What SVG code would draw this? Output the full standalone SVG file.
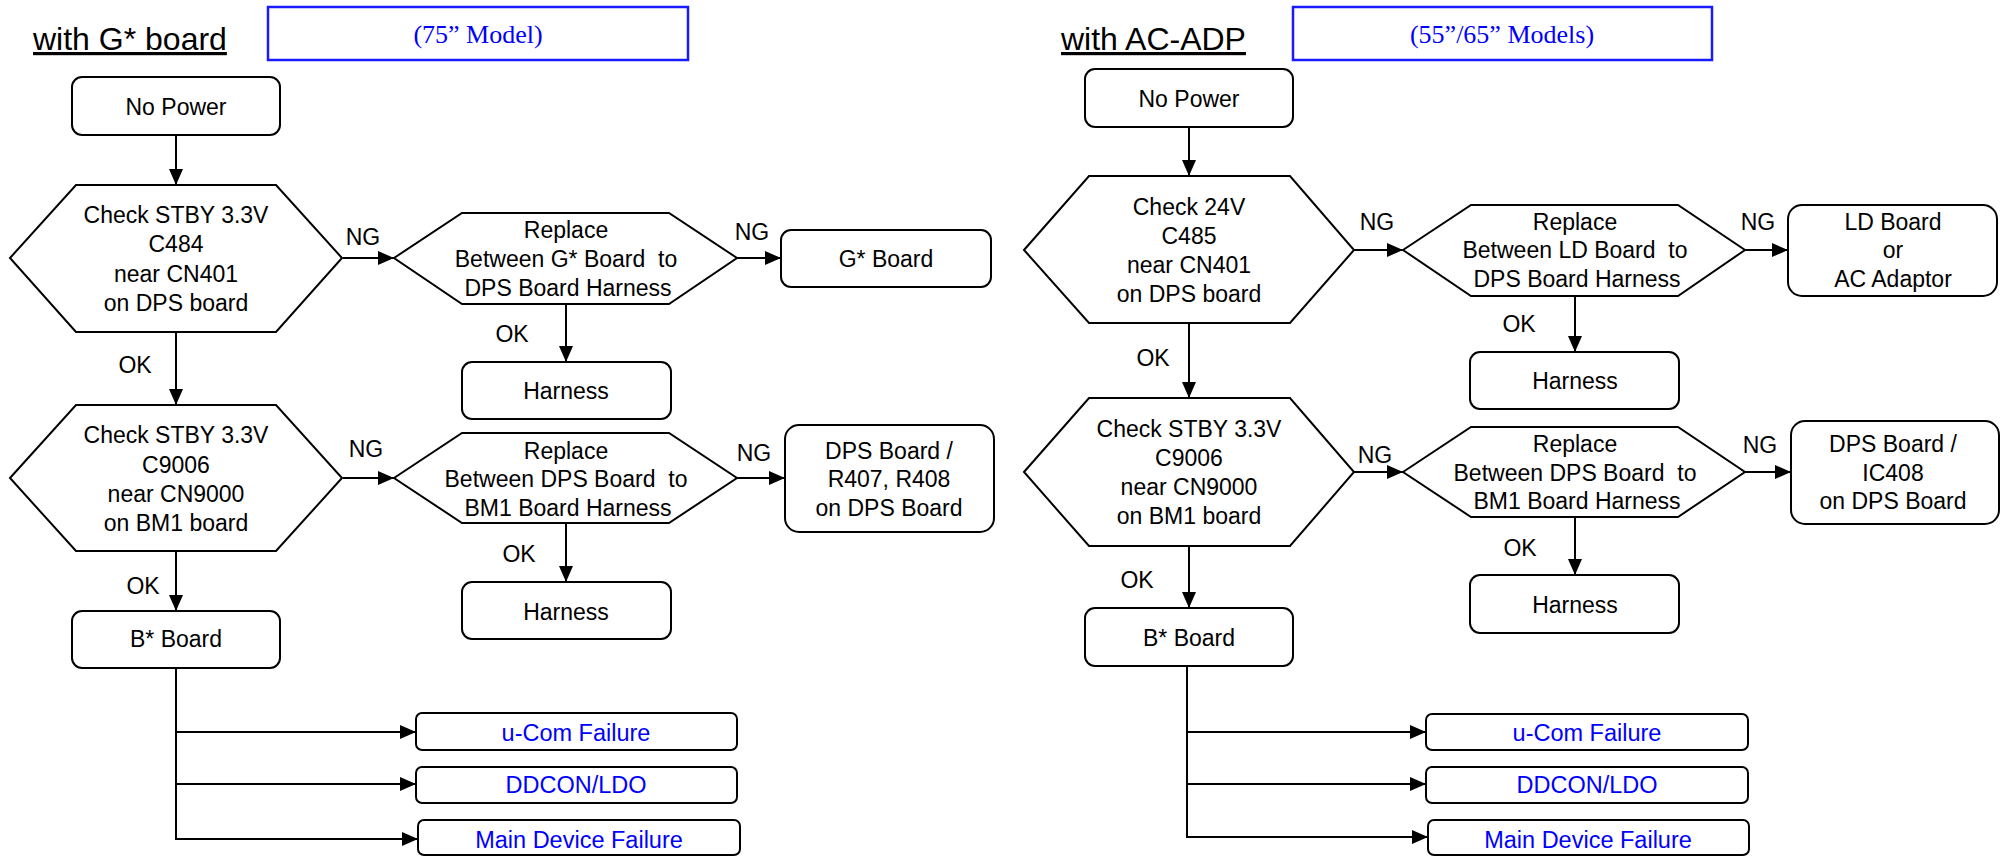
<svg xmlns="http://www.w3.org/2000/svg" width="2006" height="856" viewBox="0 0 2006 856">
<defs>
<style>
.bg{fill:#ffffff}
.box{fill:#ffffff;stroke:#000;stroke-width:2}
.hex{fill:#ffffff;stroke:#000;stroke-width:2}
.mbox{fill:none;stroke:#1a1aff;stroke-width:2.5}
.t{font-family:"Liberation Sans",Arial,sans-serif;font-size:23px;fill:#000;text-anchor:middle}
.tb{font-family:"Liberation Sans",Arial,sans-serif;font-size:23.5px;fill:#0000ff;text-anchor:middle}
.title{font-family:"Liberation Sans",Arial,sans-serif;font-size:32px;fill:#000;text-decoration:underline}
.model{font-family:"Liberation Serif","Times New Roman",serif;font-size:26px;fill:#0000ff;text-anchor:middle}
.c{stroke:#000;stroke-width:2;fill:none}
</style>
<marker id="ah" markerUnits="userSpaceOnUse" markerWidth="16" markerHeight="16" refX="16" refY="8" orient="auto">
<path d="M0,1 L16,8 L0,15 z" fill="#000"/>
</marker>
</defs>
<rect class="bg" x="0" y="0" width="2006" height="856"/>

<g id="title-left"><text class="title" x="33" y="50">with G* board</text></g>
<g id="model-left"><rect class="mbox" x="268" y="7" width="420" height="53"/><text class="model" x="478" y="43">(75” Model)</text></g>
<g id="title-right"><text class="title" x="1061" y="50">with AC-ADP</text></g>
<g id="model-right"><rect class="mbox" x="1293" y="7" width="419" height="53"/><text class="model" x="1502" y="43">(55”/65” Models)</text></g>

<g id="connectors">
<line class="c" x1="176" y1="135" x2="176" y2="185" marker-end="url(#ah)"/>
<line class="c" x1="343" y1="258" x2="394" y2="258" marker-end="url(#ah)"/>
<line class="c" x1="737" y1="258" x2="781" y2="258" marker-end="url(#ah)"/>
<line class="c" x1="566" y1="304" x2="566" y2="362" marker-end="url(#ah)"/>
<line class="c" x1="176" y1="332" x2="176" y2="405" marker-end="url(#ah)"/>
<line class="c" x1="343" y1="478" x2="394" y2="478" marker-end="url(#ah)"/>
<line class="c" x1="737" y1="478" x2="785" y2="478" marker-end="url(#ah)"/>
<line class="c" x1="566" y1="523" x2="566" y2="582" marker-end="url(#ah)"/>
<line class="c" x1="176" y1="551" x2="176" y2="611" marker-end="url(#ah)"/>
<line class="c" x1="176" y1="668" x2="176" y2="839"/>
<line class="c" x1="175" y1="732" x2="416" y2="732" marker-end="url(#ah)"/>
<line class="c" x1="175" y1="784" x2="416" y2="784" marker-end="url(#ah)"/>
<line class="c" x1="175" y1="839" x2="418" y2="839" marker-end="url(#ah)"/>

<line class="c" x1="1189" y1="127" x2="1189" y2="176" marker-end="url(#ah)"/>
<line class="c" x1="1354" y1="250" x2="1403" y2="250" marker-end="url(#ah)"/>
<line class="c" x1="1745" y1="250" x2="1788" y2="250" marker-end="url(#ah)"/>
<line class="c" x1="1575" y1="296" x2="1575" y2="352" marker-end="url(#ah)"/>
<line class="c" x1="1189" y1="323" x2="1189" y2="398" marker-end="url(#ah)"/>
<line class="c" x1="1354" y1="472" x2="1403" y2="472" marker-end="url(#ah)"/>
<line class="c" x1="1745" y1="472" x2="1791" y2="472" marker-end="url(#ah)"/>
<line class="c" x1="1575" y1="517" x2="1575" y2="575" marker-end="url(#ah)"/>
<line class="c" x1="1189" y1="546" x2="1189" y2="608" marker-end="url(#ah)"/>
<line class="c" x1="1187" y1="666" x2="1187" y2="837"/>
<line class="c" x1="1186" y1="732" x2="1426" y2="732" marker-end="url(#ah)"/>
<line class="c" x1="1186" y1="784" x2="1426" y2="784" marker-end="url(#ah)"/>
<line class="c" x1="1186" y1="837" x2="1428" y2="837" marker-end="url(#ah)"/>

<text class="t" x="363" y="245">NG</text>
<text class="t" x="752" y="240">NG</text>
<text class="t" x="512" y="342">OK</text>
<text class="t" x="135" y="373">OK</text>
<text class="t" x="366" y="457">NG</text>
<text class="t" x="754" y="461">NG</text>
<text class="t" x="519" y="562">OK</text>
<text class="t" x="143" y="594">OK</text>

<text class="t" x="1377" y="230">NG</text>
<text class="t" x="1758" y="230">NG</text>
<text class="t" x="1519" y="332">OK</text>
<text class="t" x="1153" y="366">OK</text>
<text class="t" x="1375" y="463">NG</text>
<text class="t" x="1760" y="453">NG</text>
<text class="t" x="1520" y="556">OK</text>
<text class="t" x="1137" y="588">OK</text>
</g>

<g id="L-nopower"><rect class="box" x="72" y="77" width="208" height="58" rx="10"/><text class="t" x="176" y="115">No Power</text></g>
<g id="L-check1"><polygon class="hex" points="10,258 76,185 276,185 342,258 276,332 76,332"/>
<text class="t" x="176" y="223">Check STBY 3.3V</text><text class="t" x="176" y="252">C484</text><text class="t" x="176" y="282">near CN401</text><text class="t" x="176" y="311">on DPS board</text></g>
<g id="L-replace1"><polygon class="hex" points="394,258 462,213 669,213 737,258 669,304 462,304"/>
<text class="t" x="566" y="238">Replace</text><text class="t" x="566" y="267" xml:space="preserve">Between G* Board  to</text><text class="t" x="568" y="296">DPS Board Harness</text></g>
<g id="L-gboard"><rect class="box" x="781" y="230" width="210" height="57" rx="10"/><text class="t" x="886" y="267">G* Board</text></g>
<g id="L-harness1"><rect class="box" x="462" y="362" width="209" height="57" rx="10"/><text class="t" x="566" y="399">Harness</text></g>
<g id="L-check2"><polygon class="hex" points="10,478 76,405 276,405 342,478 276,551 76,551"/>
<text class="t" x="176" y="443">Check STBY 3.3V</text><text class="t" x="176" y="473">C9006</text><text class="t" x="176" y="502">near CN9000</text><text class="t" x="176" y="531">on BM1 board</text></g>
<g id="L-replace2"><polygon class="hex" points="394,478 462,433 669,433 737,478 669,523 462,523"/>
<text class="t" x="566" y="459">Replace</text><text class="t" x="566" y="487" xml:space="preserve">Between DPS Board  to</text><text class="t" x="568" y="516">BM1 Board Harness</text></g>
<g id="L-dps"><rect class="box" x="785" y="425" width="209" height="107" rx="14"/>
<text class="t" x="889" y="459">DPS Board /</text><text class="t" x="889" y="487">R407, R408</text><text class="t" x="889" y="516">on DPS Board</text></g>
<g id="L-harness2"><rect class="box" x="462" y="582" width="209" height="57" rx="10"/><text class="t" x="566" y="620">Harness</text></g>
<g id="L-bboard"><rect class="box" x="72" y="611" width="208" height="57" rx="10"/><text class="t" x="176" y="647">B* Board</text></g>
<g id="L-ucom"><rect class="box" x="416" y="713" width="321" height="37" rx="6"/><text class="tb" x="576" y="741">u-Com Failure</text></g>
<g id="L-ddcon"><rect class="box" x="416" y="767" width="321" height="36" rx="6"/><text class="tb" x="576" y="793">DDCON/LDO</text></g>
<g id="L-main"><rect class="box" x="418" y="820" width="322" height="35" rx="6"/><text class="tb" x="579" y="848">Main Device Failure</text></g>

<g id="R-nopower"><rect class="box" x="1085" y="69" width="208" height="58" rx="10"/><text class="t" x="1189" y="107">No Power</text></g>
<g id="R-check1"><polygon class="hex" points="1024,250 1089,176 1290,176 1354,250 1290,323 1089,323"/>
<text class="t" x="1189" y="215">Check 24V</text><text class="t" x="1189" y="244">C485</text><text class="t" x="1189" y="273">near CN401</text><text class="t" x="1189" y="302">on DPS board</text></g>
<g id="R-replace1"><polygon class="hex" points="1403,250 1471,205 1678,205 1745,250 1678,296 1471,296"/>
<text class="t" x="1575" y="230">Replace</text><text class="t" x="1575" y="258" xml:space="preserve">Between LD Board  to</text><text class="t" x="1577" y="287">DPS Board Harness</text></g>
<g id="R-ld"><rect class="box" x="1788" y="205" width="209" height="91" rx="14"/>
<text class="t" x="1893" y="230">LD Board</text><text class="t" x="1893" y="258">or</text><text class="t" x="1893" y="287">AC Adaptor</text></g>
<g id="R-harness1"><rect class="box" x="1470" y="352" width="209" height="57" rx="10"/><text class="t" x="1575" y="389">Harness</text></g>
<g id="R-check2"><polygon class="hex" points="1024,472 1089,398 1290,398 1354,472 1290,546 1089,546"/>
<text class="t" x="1189" y="437">Check STBY 3.3V</text><text class="t" x="1189" y="466">C9006</text><text class="t" x="1189" y="495">near CN9000</text><text class="t" x="1189" y="524">on BM1 board</text></g>
<g id="R-replace2"><polygon class="hex" points="1403,472 1471,427 1678,427 1745,472 1678,517 1471,517"/>
<text class="t" x="1575" y="452">Replace</text><text class="t" x="1575" y="481" xml:space="preserve">Between DPS Board  to</text><text class="t" x="1577" y="509">BM1 Board Harness</text></g>
<g id="R-dps"><rect class="box" x="1791" y="421" width="208" height="103" rx="14"/>
<text class="t" x="1893" y="452">DPS Board /</text><text class="t" x="1893" y="481">IC408</text><text class="t" x="1893" y="509">on DPS Board</text></g>
<g id="R-harness2"><rect class="box" x="1470" y="575" width="209" height="58" rx="10"/><text class="t" x="1575" y="613">Harness</text></g>
<g id="R-bboard"><rect class="box" x="1085" y="608" width="208" height="58" rx="10"/><text class="t" x="1189" y="646">B* Board</text></g>
<g id="R-ucom"><rect class="box" x="1426" y="714" width="322" height="36" rx="6"/><text class="tb" x="1587" y="741">u-Com Failure</text></g>
<g id="R-ddcon"><rect class="box" x="1426" y="767" width="322" height="36" rx="6"/><text class="tb" x="1587" y="793">DDCON/LDO</text></g>
<g id="R-main"><rect class="box" x="1428" y="820" width="321" height="35" rx="6"/><text class="tb" x="1588" y="848">Main Device Failure</text></g>
</svg>
